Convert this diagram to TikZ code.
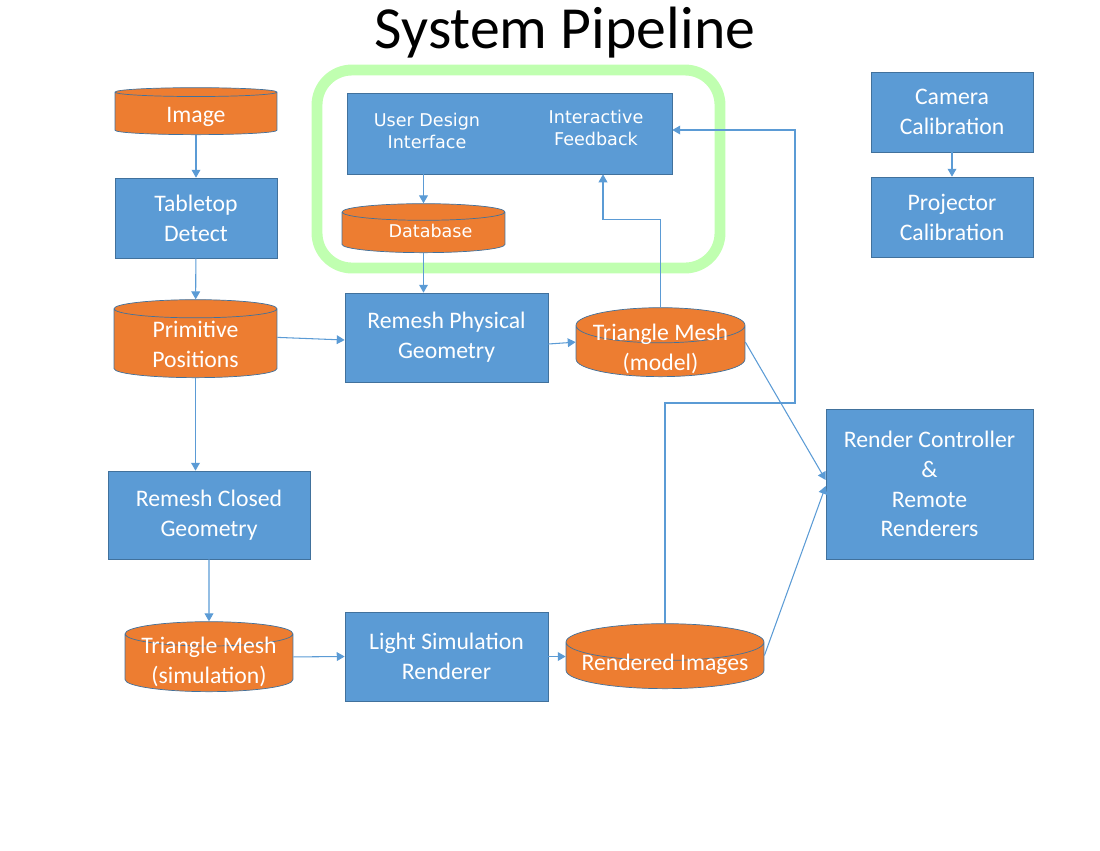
\documentclass[tikz,border=0pt]{standalone}
\usepackage{fontspec}
\usepackage{tikz}
\usetikzlibrary{arrows.meta,shapes.geometric}
\newfontfamily\calfont{Carlito}
\newfontfamily\dvfont{DejaVu Sans}
\definecolor{boxblue}{RGB}{91,155,213}
\definecolor{boxline}{RGB}{65,113,156}
\definecolor{storeorange}{RGB}{237,125,49}
\definecolor{groupgreen}{RGB}{192,255,176}
% text of a cylinder, lowered by #1 (baseline of the last line)
\newcommand{\storelabel}[2]{\raisebox{#1}[0pt][0pt]{\begin{tabular}[b]{@{}c@{}}#2\end{tabular}}}
\tikzset{
  process/.style={draw=boxline, fill=boxblue, text=white, align=center, inner sep=0pt,
    font=\calfont\fontsize{13.5}{17}\selectfont},
  store/.style={cylinder, shape border rotate=90, draw=boxline, fill=storeorange, text=white,
    inner sep=0pt, anchor=south, font=\calfont\fontsize{13.5}{17}\selectfont},
  uilabel/.style={text=white, align=center, font=\dvfont\fontsize{10}{12.5}\selectfont},
  flow/.style={draw=boxblue, line width=0.6pt, -{Triangle[length=4.5pt,width=5pt]}},
  groupbox/.style={draw=groupgreen, line width=6.2pt, rounded corners=0.7cm},
}
\begin{document}
\begin{tikzpicture}[x=0.02cm, y=-0.02cm]
  \useasboundingbox (0,0) rectangle (1100,850);
  \node (title) at (565,33) {\calfont\fontsize{34}{40}\selectfont System Pipeline};

  % design group
  \draw[groupbox] (317,70) rectangle (720,268);
  \node[process, minimum width=6.5cm, minimum height=1.62cm] (ui) at (509.5,133.5) {};
  \node[uilabel] (design) at (427,131) {User Design\\Interface};
  \node[uilabel] (feedback) at (596,128) {Interactive\\Feedback};
  \node[store, aspect=0.17, minimum width=3.26cm, minimum height=0.98cm,
    font=\dvfont\fontsize{10}{12}\selectfont] (database) at (423.5,253) {\storelabel{-2.8pt}{\hspace*{8pt}Database}};

  % left column
  \node[store, aspect=0.15, minimum width=3.24cm, minimum height=0.94cm] (image) at (196,135) {\storelabel{-5.1pt}{Image}};
  \node[process, minimum width=3.24cm, minimum height=1.6cm] (tabletop) at (196,218) {Tabletop\\Detect};
  \node[store, aspect=0.21, minimum width=3.26cm, minimum height=1.56cm] (primpos) at (195.5,378) {\storelabel{-13.6pt}{Primitive\\Positions}};
  \node[process, minimum width=4.04cm, minimum height=1.76cm] (closed) at (209,515) {Remesh Closed\\Geometry};
  \node[store, aspect=0.18, minimum width=3.36cm, minimum height=1.4cm] (trisim) at (209,692) {\storelabel{-11.9pt}{Triangle Mesh\\(simulation)}};

  % middle
  \node[process, minimum width=4.06cm, minimum height=1.78cm] (physical) at (446.5,337.5) {Remesh Physical\\Geometry};
  \node[store, aspect=0.26, minimum width=3.38cm, minimum height=1.38cm] (trimodel) at (660.5,377) {\storelabel{-10.8pt}{Triangle Mesh\\(model)}};
  \node[process, minimum width=4.06cm, minimum height=1.78cm] (lightsim) at (446.5,656.5) {Light Simulation\\Renderer};
  \node[store, aspect=0.22, minimum width=3.96cm, minimum height=1.3cm] (rendered) at (665,689) {\storelabel{-2.6pt}{Rendered Images}};

  % right
  \node[process, minimum width=4.14cm, minimum height=3cm] (controller) at (929.5,484) {Render Controller\\\&\\Remote\\Renderers};
  \node[process, minimum width=3.24cm, minimum height=1.6cm] (camera) at (952,112) {Camera\\Calibration};
  \node[process, minimum width=3.24cm, minimum height=1.6cm] (projector) at (952,217) {Projector\\Calibration};

  \coordinate (loop) at (795,403);

  \draw[flow] (image) -- (tabletop);
  \draw[flow] (tabletop) -- (primpos);
  \draw[flow] ([yshift=0.12cm]primpos.east) -- ([yshift=-0.05cm]physical.west);
  \draw[flow] (primpos.south) -- (primpos.south |- closed.north);
  \draw[flow] (closed) -- (trisim);
  \draw[flow] ([yshift=0.12cm]trisim.east) -- (lightsim.west);
  \draw[flow] (lightsim.east) -- (lightsim.east -| rendered.west);
  \draw[flow] ([yshift=-0.13cm]physical.east) -- ([yshift=0.18cm]trimodel.west);
  \draw[flow] (ui.south -| database.north) -- (database.north);
  \draw[flow] (database.south) -- (database.south |- physical.north);
  \draw[flow] (trimodel.north) -- ++(0,-88) -| ([xshift=0.14cm]ui.south -| feedback);
  \draw[flow] (rendered.north) |- (loop) |- ([yshift=0.07cm]ui.east);
  \draw[flow] ([yshift=0.18cm]trimodel.east) -- ([yshift=0.08cm]controller.west);
  \draw[flow] ([yshift=0.2cm]rendered.east) -- ([yshift=-0.04cm]controller.west);
  \draw[flow] (camera) -- (projector);
\end{tikzpicture}
\end{document}
